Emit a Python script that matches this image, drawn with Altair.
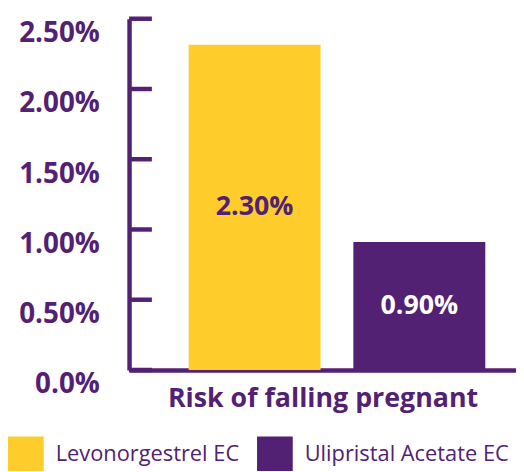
import json
import altair as alt
import pandas as pd

products = ["Levonorgestrel EC", "Ulipristal Acetate EC"]
risk = [0.02315, 0.0091]
value_labels = ["2.30%", "0.90%"]
y_ticks = [0.0, 0.005, 0.010, 0.015, 0.020, 0.025]
y_tick_labels = ["0.0%", "0.50%", "1.00%", "1.50%", "2.00%", "2.50%"]
axis_title = "Risk of falling pregnant"

PURPLE = "#532174"
YELLOW = "#FECD2C"
FONT = "Open Sans"

df = pd.DataFrame({
    "product": products,
    "risk": risk,
    "label": value_labels,
    "half": [r / 2 for r in risk],
})
ticks_df = pd.DataFrame({"tick": y_ticks})

label_expr = json.dumps(y_tick_labels).replace('"', "'") + "[round(datum.value / 0.005)]"

x_enc = alt.X(
    "product:N",
    sort=products,
    scale=alt.Scale(paddingInner=0.199, paddingOuter=0.274, align=0.66),
    axis=alt.Axis(
        title=axis_title, labels=False, ticks=False,
        domainColor=PURPLE, domainWidth=4.5,
        titleFont=FONT, titleFontSize=27, titleFontWeight="bold",
        titleColor=PURPLE, titlePadding=16,
    ),
)
y_scale = alt.Scale(domain=[0, 0.025], nice=False, zero=True)

bars = alt.Chart(df).mark_bar().encode(
    x=x_enc,
    y=alt.Y(
        "risk:Q", scale=y_scale, title=None,
        axis=alt.Axis(
            values=y_ticks, labelExpr=label_expr, ticks=False, grid=False,
            domainColor=PURPLE, domainWidth=4.5,
            labelFont=FONT, labelFontSize=28, labelFontWeight="bold",
            labelColor=PURPLE, labelPadding=30, labelOffset=15,
            labelOverlap=False, title=None,
        ),
    ),
    color=alt.Color(
        "product:N", sort=products,
        scale=alt.Scale(domain=products, range=[YELLOW, PURPLE]),
        legend=alt.Legend(
            orient="none", legendX=-122, legendY=421, direction="horizontal",
            title=None, symbolType="square", symbolSize=1296,
            symbolStrokeWidth=0, symbolOpacity=1,
            labelFont=FONT, labelFontSize=22, labelColor=PURPLE,
            labelOffset=12, labelLimit=0, columnPadding=17, padding=0,
        ),
    ),
)

texts = alt.Chart(df).mark_text(
    font=FONT, fontSize=27, fontWeight="bold", baseline="middle", align="center"
).encode(
    x=x_enc,
    y=alt.Y("half:Q", scale=y_scale, title=None),
    text="label:N",
    color=alt.condition(
        alt.datum.product == products[0], alt.value(PURPLE), alt.value("white")
    ),
)

tick_rules = alt.Chart(ticks_df).mark_rule(color=PURPLE, strokeWidth=4.5).encode(
    y=alt.Y("tick:Q", scale=y_scale, title=None),
    x=alt.value(0),
    x2=alt.value(23),
)

chart = alt.layer(bars, texts, tick_rules).properties(
    width=390,
    height=354,
    padding={"left": 122, "top": 9, "right": 0, "bottom": 100},
    autosize=alt.AutoSizeParams(type="none"),
).configure_view(stroke=None)

chart.save("out.html", embed_options={"renderer": "svg", "actions": False})
